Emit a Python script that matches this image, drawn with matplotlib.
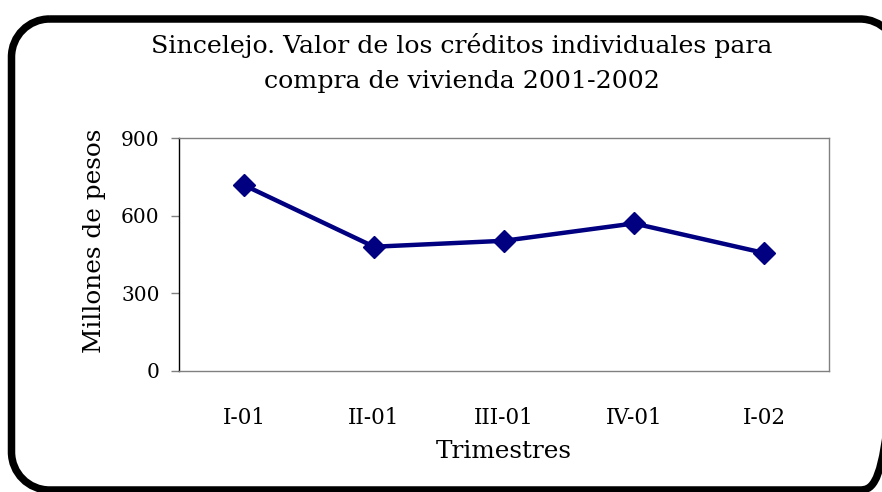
import matplotlib
matplotlib.use("Agg")
import matplotlib.pyplot as plt
from matplotlib.path import Path
from matplotlib.patches import PathPatch

categories = ["I-01", "II-01", "III-01", "IV-01", "I-02"]
values = [718, 480, 503, 570, 456]
yticks = [0, 300, 600, 900]

plt.rcParams['font.family'] = ['DejaVu Serif']

W, H = 882, 492
fig = plt.figure(figsize=(W / 100, H / 100), dpi=100)
ax = fig.add_axes([179/W, 121/H, 650/W, 233/H])

x = list(range(len(categories)))
ax.plot(x, values, color="#000080", lw=3.2, marker="D", markersize=11.5, zorder=3)
ax.set_xlim(-0.5, len(categories) - 0.5)
ax.set_ylim(0, 900)
ax.set_yticks(yticks)
ax.set_yticklabels([str(v) for v in yticks], fontsize=14.5)
ax.set_xticks(x)
ax.set_xticklabels(categories, fontsize=15.5)
ax.tick_params(axis='x', length=0, pad=26)
ax.tick_params(axis='y', length=6, width=1, color="#808080", pad=8)
for s in ["top", "right", "bottom"]:
    ax.spines[s].set_color("#808080")
    ax.spines[s].set_linewidth(1)
ax.spines["left"].set_color("black")
ax.spines["left"].set_linewidth(1)

ax.set_ylabel("Millones de pesos", fontsize=17.8)
ax.yaxis.set_label_coords(-0.112, 0.56)
ax.set_xlabel("Trimestres", fontsize=17.8, labelpad=8)

fig.text(462/W, 1 - 63/H, "Sincelejo. Valor de los créditos individuales para\ncompra de vivienda 2001-2002",
         ha="center", va="center", fontsize=18.2, linespacing=1.68)

# rounded border, image pixel coordinates (y from top) converted to figure fraction
L, T, R, B, r = 11.5, 19, 898, 490, 38
k = 0.5523 * r
pts = [(L + r, T), (R - r, T),
       (R - r + k, T), (R, T + r - k), (R, T + r),
       (R, B - r),
       (R, B - r + k), (R - r + k, B), (R - r, B),
       (L + r, B),
       (L + r - k, B), (L, B - r + k), (L, B - r),
       (L, T + r),
       (L, T + r - k), (L + r - k, T), (L + r, T)]
codes = [Path.MOVETO, Path.LINETO,
         Path.CURVE4, Path.CURVE4, Path.CURVE4,
         Path.LINETO,
         Path.CURVE4, Path.CURVE4, Path.CURVE4,
         Path.LINETO,
         Path.CURVE4, Path.CURVE4, Path.CURVE4,
         Path.LINETO,
         Path.CURVE4, Path.CURVE4, Path.CURVE4]
verts = [(px / W, 1 - py / H) for px, py in pts]
border = PathPatch(Path(verts, codes), transform=fig.transFigure, fill=False,
                   edgecolor="black", linewidth=5.4, clip_on=False)
fig.patches.append(border)

fig.savefig("out.png", dpi=100)
